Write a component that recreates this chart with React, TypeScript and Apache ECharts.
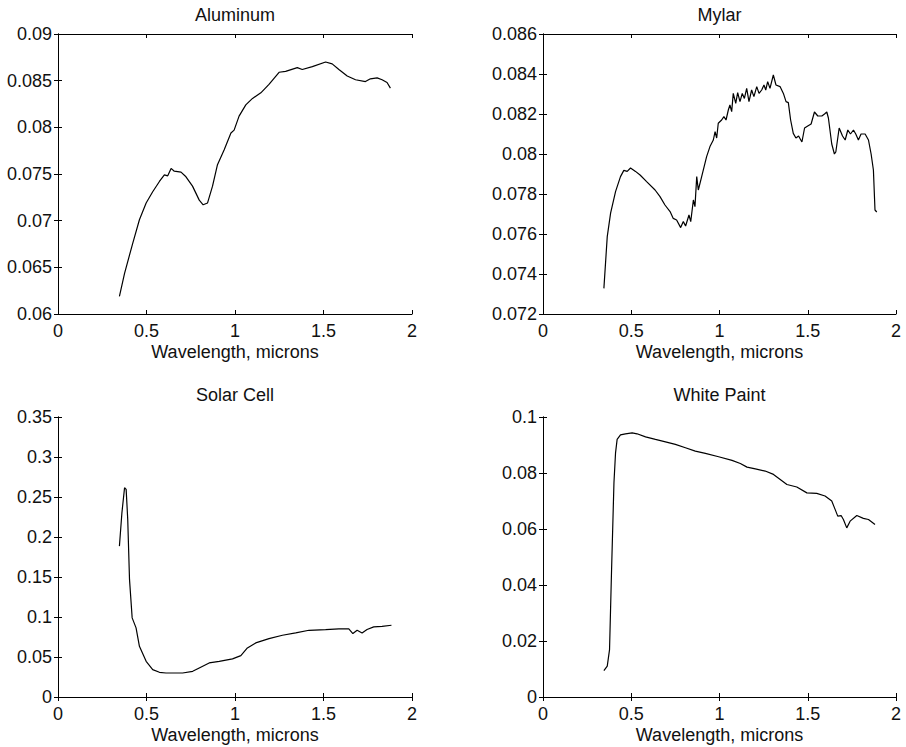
import React, { useEffect, useRef } from "react";
import * as echarts from "echarts";

const titles = ["Aluminum", "Mylar", "Solar Cell", "White Paint"];
const xLabel = "Wavelength, microns";

const aluminumX = [0.347, 0.376, 0.4225, 0.46, 0.498, 0.535, 0.573, 0.601, 0.62, 0.639, 0.657, 0.695, 0.723, 0.76, 0.798, 0.82, 0.845, 0.873, 0.901, 0.939, 0.977, 0.995, 1.023, 1.061, 1.099, 1.146, 1.192, 1.249, 1.286, 1.352, 1.38, 1.437, 1.512, 1.549, 1.587, 1.634, 1.681, 1.737, 1.765, 1.803, 1.831, 1.859, 1.878];
const aluminumY = [0.0619, 0.06436, 0.0676, 0.0701, 0.0719, 0.0731, 0.0742, 0.0749, 0.0748, 0.0756, 0.0753, 0.0752, 0.0747, 0.0737, 0.0722, 0.0717, 0.0719, 0.0737, 0.076, 0.0776, 0.0794, 0.0797, 0.0812, 0.0824, 0.0831, 0.0837, 0.0846, 0.0859, 0.086, 0.0864, 0.0862, 0.0865, 0.087, 0.0868, 0.0862, 0.0855, 0.0851, 0.0849, 0.0852, 0.0853, 0.0851, 0.0848, 0.0842];

const mylarX = [0.345, 0.364, 0.383, 0.411, 0.439, 0.458, 0.477, 0.496, 0.524, 0.55, 0.587, 0.635, 0.663, 0.691, 0.72, 0.738, 0.757, 0.78, 0.795, 0.808, 0.827, 0.837, 0.852, 0.861, 0.871, 0.88, 0.899, 0.927, 0.946, 0.965, 0.975, 0.984, 0.993, 1.012, 1.025, 1.037, 1.05, 1.059, 1.069, 1.078, 1.092, 1.103, 1.116, 1.129, 1.141, 1.154, 1.167, 1.182, 1.195, 1.211, 1.224, 1.239, 1.252, 1.262, 1.273, 1.286, 1.305, 1.32, 1.343, 1.362, 1.377, 1.39, 1.403, 1.418, 1.433, 1.448, 1.467, 1.482, 1.5, 1.519, 1.538, 1.557, 1.58, 1.595, 1.608, 1.617, 1.636, 1.651, 1.659, 1.678, 1.697, 1.712, 1.727, 1.742, 1.759, 1.772, 1.787, 1.802, 1.825, 1.844, 1.859, 1.872, 1.881, 1.891];
const mylarY = [0.07328, 0.07587, 0.07704, 0.07812, 0.07887, 0.07918, 0.07913, 0.0793, 0.07913, 0.07895, 0.07862, 0.0782, 0.07787, 0.07745, 0.07712, 0.07678, 0.0767, 0.07632, 0.07662, 0.0764, 0.07695, 0.07662, 0.0777, 0.07737, 0.07887, 0.0782, 0.07887, 0.07987, 0.08037, 0.0807, 0.08112, 0.0808, 0.08154, 0.0817, 0.08187, 0.0817, 0.0822, 0.08245, 0.08212, 0.08303, 0.08253, 0.08307, 0.08262, 0.08303, 0.08278, 0.08328, 0.08262, 0.0832, 0.08287, 0.08337, 0.08303, 0.0832, 0.08345, 0.0832, 0.08362, 0.08328, 0.08395, 0.08345, 0.08337, 0.08303, 0.08262, 0.08257, 0.0817, 0.08103, 0.0808, 0.0809, 0.0806, 0.0813, 0.0814, 0.0815, 0.0821, 0.0819, 0.0819, 0.082, 0.0821, 0.0818, 0.0805, 0.08, 0.0801, 0.0813, 0.0809, 0.0807, 0.0812, 0.081, 0.0812, 0.081, 0.0807, 0.081, 0.081, 0.0807, 0.08, 0.0792, 0.0772, 0.0771];

const solarX = [0.347, 0.361, 0.376, 0.385, 0.394, 0.404, 0.419, 0.441, 0.46, 0.498, 0.535, 0.573, 0.61, 0.704, 0.761, 0.798, 0.854, 0.911, 0.986, 1.033, 1.07, 1.117, 1.192, 1.268, 1.343, 1.418, 1.512, 1.587, 1.643, 1.666, 1.69, 1.718, 1.746, 1.784, 1.831, 1.884];
const solarY = [0.1886, 0.23, 0.2616, 0.2595, 0.222, 0.147, 0.0989, 0.0864, 0.0634, 0.0446, 0.0342, 0.0309, 0.03, 0.03, 0.0321, 0.0363, 0.0426, 0.0446, 0.0476, 0.0517, 0.0613, 0.0676, 0.073, 0.0772, 0.0801, 0.0834, 0.0843, 0.0851, 0.0851, 0.0793, 0.0834, 0.0801, 0.0843, 0.0876, 0.0884, 0.0897];

const paintX = [0.345, 0.364, 0.377, 0.388, 0.402, 0.411, 0.42, 0.439, 0.467, 0.505, 0.533, 0.581, 0.637, 0.694, 0.75, 0.807, 0.863, 0.92, 0.995, 1.071, 1.118, 1.156, 1.203, 1.259, 1.306, 1.344, 1.382, 1.438, 1.495, 1.551, 1.598, 1.636, 1.655, 1.67, 1.689, 1.702, 1.721, 1.74, 1.778, 1.815, 1.844, 1.881];
const paintY = [0.00942, 0.011, 0.0169, 0.0443, 0.0765, 0.0872, 0.092, 0.0936, 0.094, 0.0943, 0.094, 0.0929, 0.092, 0.0911, 0.0902, 0.089, 0.0878, 0.087, 0.0858, 0.0845, 0.0834, 0.0821, 0.0815, 0.0807, 0.0795, 0.0777, 0.0759, 0.075, 0.0729, 0.0727, 0.0718, 0.07, 0.067, 0.0646, 0.0648, 0.0634, 0.0604, 0.0628, 0.0648, 0.0638, 0.0634, 0.0616];

const xTicks = { min: 0, max: 2, interval: 0.5 };
const yRanges = [
  { min: 0.06, max: 0.09, interval: 0.005 },
  { min: 0.072, max: 0.086, interval: 0.002 },
  { min: 0, max: 0.35, interval: 0.05 },
  { min: 0, max: 0.1, interval: 0.02 },
];

const seriesX = [aluminumX, mylarX, solarX, paintX];
const seriesY = [aluminumY, mylarY, solarY, paintY];

const FONT = "Liberation Sans, Arial, Helvetica, sans-serif";
const FS = 18;
const grids = [
  { left: 58, top: 34, width: 354, height: 280 },
  { left: 543, top: 34, width: 353, height: 280 },
  { left: 58, top: 417, width: 354, height: 280 },
  { left: 543, top: 417, width: 353, height: 280 },
];
const titleTops = [6, 6, 386, 386];

const fmt = (v: number) => String(parseFloat(v.toFixed(5)));

export default function App() {
  const ref = useRef<HTMLDivElement>(null);
  useEffect(() => {
    document.body.style.margin = "0";
    const chart = echarts.init(ref.current!, undefined, { renderer: "svg" });
    const xAxis: any[] = [];
    const yAxis: any[] = [];
    grids.forEach((_, i) => {
      xAxis.push({
        type: "value",
        gridIndex: i,
        position: "bottom",
        ...xTicks,
        name: xLabel,
        nameLocation: "middle",
        nameGap: 29,
        nameTextStyle: { fontFamily: FONT, fontSize: FS, color: "#111" },
        axisLine: { show: true, lineStyle: { color: "#000", width: 1 } },
        axisTick: { show: true, inside: true, length: 4, lineStyle: { color: "#000" } },
        axisLabel: { fontFamily: FONT, fontSize: FS, color: "#111", margin: 8, formatter: fmt },
        splitLine: { show: false },
      });
      yAxis.push({
        type: "value",
        gridIndex: i,
        position: "left",
        ...yRanges[i],
        axisLine: { show: true, lineStyle: { color: "#000", width: 1 } },
        axisTick: { show: true, inside: true, length: 4, lineStyle: { color: "#000" } },
        axisLabel: { fontFamily: FONT, fontSize: FS, color: "#111", margin: 6, formatter: fmt },
        splitLine: { show: false },
      });
    });
    grids.forEach((_, i) => {
      xAxis.push({
        type: "value",
        gridIndex: i,
        position: "top",
        ...xTicks,
        axisLine: { show: true, lineStyle: { color: "#000", width: 1 } },
        axisTick: { show: true, inside: true, length: 4, lineStyle: { color: "#000" } },
        axisLabel: { show: false },
        splitLine: { show: false },
      });
      yAxis.push({
        type: "value",
        gridIndex: i,
        position: "right",
        ...yRanges[i],
        axisLine: { show: true, lineStyle: { color: "#000", width: 1 } },
        axisTick: { show: true, inside: true, length: 4, lineStyle: { color: "#000" } },
        axisLabel: { show: false },
        splitLine: { show: false },
      });
    });
    chart.setOption({
      animation: false,
      backgroundColor: "#fff",
      title: titles.map((t, i) => ({
        text: t,
        left: grids[i].left + grids[i].width / 2,
        top: titleTops[i],
        padding: 0,
        textAlign: "center",
        textStyle: { fontFamily: FONT, fontSize: FS, fontWeight: "normal", color: "#111" },
      })),
      grid: grids.map((g) => ({ ...g, containLabel: false })),
      xAxis,
      yAxis,
      series: seriesX.map((xs, i) => ({
        type: "line",
        xAxisIndex: i,
        yAxisIndex: i,
        showSymbol: false,
        symbol: "none",
        data: xs.map((x, j) => [x, seriesY[i][j]]),
        lineStyle: { color: "#000", width: 1.2 },
      })),
    });
    return () => chart.dispose();
  }, []);
  return <div ref={ref} style={{ width: 906, height: 747 }} />;
}
